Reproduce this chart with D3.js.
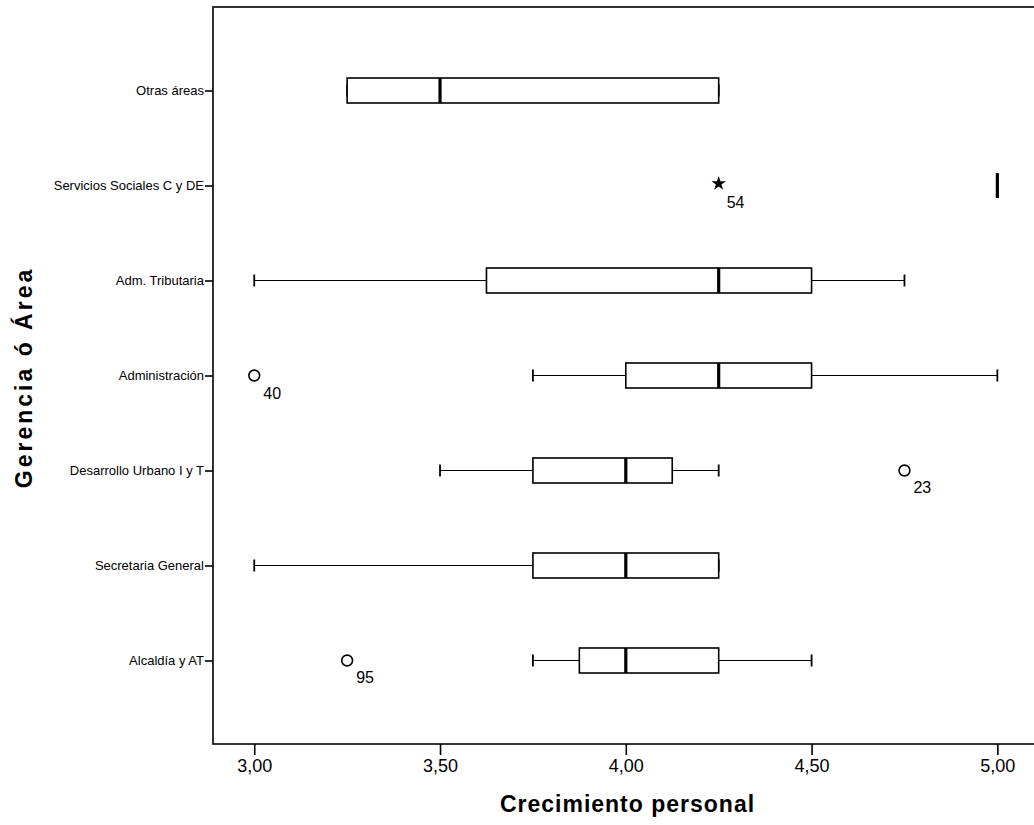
<!DOCTYPE html>
<html>
<head>
<meta charset="utf-8">
<script src="https://cdn.jsdelivr.net/npm/d3@7"></script>
<style>
  html, body { margin: 0; padding: 0; background: #fff; }
  svg { display: block; font-family: "Liberation Sans", Arial, sans-serif; }
</style>
</head>
<body>
<svg id="chart" width="1034" height="825"></svg>
<script>
// ---- data ----
const categories = ["Otras áreas", "Servicios Sociales C y DE", "Adm. Tributaria", "Administración",
                    "Desarrollo Urbano I y T", "Secretaria General", "Alcaldía y AT"];
const whiskerLow  = [3.25, 5.00, 3.00,  3.75, 3.50,  3.00, 3.75];
const q1          = [3.25, 5.00, 3.625, 4.00, 3.75,  3.75, 3.875];
const median      = [3.50, 5.00, 4.25,  4.25, 4.00,  4.00, 4.00];
const q3          = [4.25, 5.00, 4.50,  4.50, 4.125, 4.25, 4.25];
const whiskerHigh = [4.25, 5.00, 4.75,  5.00, 4.25,  4.25, 4.50];

const outlierCategory = ["Servicios Sociales C y DE", "Administración", "Desarrollo Urbano I y T", "Alcaldía y AT"];
const outlierValue    = [4.25, 3.00, 4.75, 3.25];
const outlierLabel    = ["54", "40", "23", "95"];
const outlierType     = ["extreme", "outlier", "outlier", "outlier"];

const xTicks = [3.00, 3.50, 4.00, 4.50, 5.00];
const xTitle = "Crecimiento personal";
const yTitle = "Gerencia ó Área";

// ---- layout ----
const svg = d3.select("#chart");
const plotL = 213, plotR = 1038.6, plotT = 7, plotB = 744;

const x = d3.scaleLinear().domain([2.889, 5.111]).range([plotL, plotR]);
const y = d3.scalePoint().domain(categories).range([plotT, plotB]).padding(0.879);
const boxH = 25, capH = 12;

// frame
svg.append("rect")
  .attr("x", plotL).attr("y", plotT)
  .attr("width", plotR - plotL).attr("height", plotB - plotT)
  .attr("fill", "none").attr("stroke", "#000").attr("stroke-width", 1.6);

// x axis
const xAxis = d3.axisBottom(x).tickValues(xTicks)
  .tickSize(11).tickPadding(4)
  .tickFormat(d => d3.format(".2f")(d).replace(".", ","));
const gx = svg.append("g").attr("transform", `translate(0,${plotB})`).call(xAxis);
gx.select(".domain").remove();
gx.selectAll(".tick line").attr("stroke", "#000").attr("stroke-width", 1.6);
gx.selectAll(".tick text").attr("fill", "#000")
  .style("font-size", "18px").style("font-family", "'Liberation Sans', Arial, sans-serif");

// y axis
const yAxis = d3.axisLeft(y).tickSize(8).tickPadding(1);
const gy = svg.append("g").attr("transform", `translate(${plotL},0)`).call(yAxis);
gy.select(".domain").remove();
gy.selectAll(".tick line").attr("stroke", "#000").attr("stroke-width", 1.6);
gy.selectAll(".tick text").attr("fill", "#000")
  .style("font-size", "13px").style("font-family", "'Liberation Sans', Arial, sans-serif");

// box plots
const boxes = categories.map((c, i) => ({
  c, lo: whiskerLow[i], q1: q1[i], med: median[i], q3: q3[i], hi: whiskerHigh[i]
}));

const g = svg.append("g");
const bx = g.selectAll("g.box").data(boxes).join("g").attr("class", "box");

// whiskers
bx.append("line")
  .attr("x1", d => x(d.lo)).attr("x2", d => x(d.q1))
  .attr("y1", d => y(d.c)).attr("y2", d => y(d.c))
  .attr("stroke", "#000").attr("stroke-width", 1.2);
bx.append("line")
  .attr("x1", d => x(d.q3)).attr("x2", d => x(d.hi))
  .attr("y1", d => y(d.c)).attr("y2", d => y(d.c))
  .attr("stroke", "#000").attr("stroke-width", 1.2);
bx.append("line")
  .attr("x1", d => x(d.lo)).attr("x2", d => x(d.lo))
  .attr("y1", d => y(d.c) - capH / 2).attr("y2", d => y(d.c) + capH / 2)
  .attr("stroke", "#000").attr("stroke-width", 1.8);
bx.append("line")
  .attr("x1", d => x(d.hi)).attr("x2", d => x(d.hi))
  .attr("y1", d => y(d.c) - capH / 2).attr("y2", d => y(d.c) + capH / 2)
  .attr("stroke", "#000").attr("stroke-width", 1.8);

// boxes
bx.append("rect")
  .attr("x", d => x(d.q1)).attr("width", d => x(d.q3) - x(d.q1))
  .attr("y", d => y(d.c) - boxH / 2).attr("height", boxH)
  .attr("fill", "#fff").attr("stroke", "#000").attr("stroke-width", 1.6);

// medians
bx.append("line")
  .attr("x1", d => x(d.med)).attr("x2", d => x(d.med))
  .attr("y1", d => y(d.c) - boxH / 2).attr("y2", d => y(d.c) + boxH / 2)
  .attr("stroke", "#000").attr("stroke-width", 3.2);

// outliers
const outs = outlierValue.map((v, i) => ({ c: outlierCategory[i], v, label: outlierLabel[i], type: outlierType[i] }));
const og = svg.append("g").selectAll("g").data(outs).join("g")
  .attr("transform", d => `translate(${x(d.v)},${y(d.c) - (d.type === "extreme" ? 2 : 0)})`);

og.filter(d => d.type === "outlier").append("circle")
  .attr("r", 5.4).attr("fill", "none").attr("stroke", "#000").attr("stroke-width", 1.6);
og.filter(d => d.type === "extreme").append("path")
  .attr("d", d3.symbol().type(d3.symbolStar).size(65))
  .attr("fill", "#000");
og.append("text")
  .attr("x", d => d.type === "extreme" ? 8 : 9)
  .attr("y", d => d.type === "extreme" ? 24 : 23)
  .attr("fill", "#000")
  .style("font-size", "16px")
  .text(d => d.label);

// axis titles
svg.append("text")
  .attr("x", (plotL + 1034) / 2 + 4).attr("y", 812)
  .attr("text-anchor", "middle")
  .style("font-size", "23px").style("font-weight", "bold").style("letter-spacing", "1px")
  .text(xTitle);

svg.append("text")
  .attr("transform", `translate(32,${(plotT + plotB) / 2 + 2}) rotate(-90)`)
  .attr("text-anchor", "middle")
  .style("font-size", "23px").style("font-weight", "bold").style("letter-spacing", "3px")
  .text(yTitle);
</script>
</body>
</html>
